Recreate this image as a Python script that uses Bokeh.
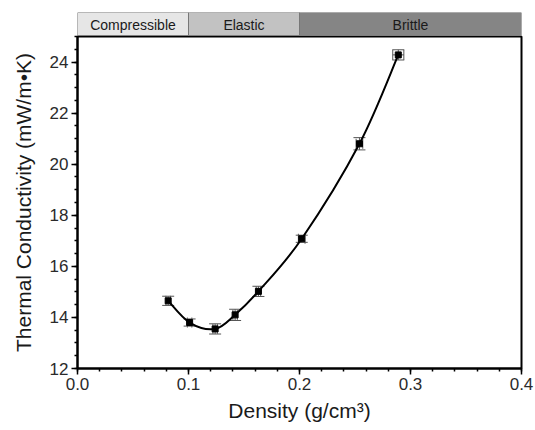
from bokeh.plotting import figure
from bokeh.models import Range1d, FixedTicker, Whisker, ColumnDataSource, TeeHead, NumeralTickFormatter
from bokeh.layouts import column
from bokeh.embed import file_html
from bokeh.resources import INLINE
from bokeh.core.properties import value

# ---- data ----
density = [0.0817, 0.101, 0.124, 0.142, 0.163, 0.202, 0.254, 0.289]
conductivity = [14.65, 13.80, 13.55, 14.10, 15.02, 17.08, 20.80, 24.28]
cond_err = [0.18, 0.14, 0.20, 0.22, 0.20, 0.14, 0.24, 0.20]
density_err = [0.002, 0.002, 0.002, 0.002, 0.002, 0.003, 0.003, 0.005]

regime_names = ["Compressible", "Elastic", "Brittle"]
regime_starts = [0.0, 0.1, 0.2]
regime_ends = [0.1, 0.2, 0.4]
regime_colors = ["#e6e6e6", "#c2c2c2", "#858585"]

x_ticks = [0.0, 0.1, 0.2, 0.3, 0.4]
x_minor = [round(i * 0.02, 2) for i in range(21)]
y_ticks = [12, 14, 16, 18, 20, 22, 24]
y_minor = [12 + 0.5 * i for i in range(27)]

FONT = "Liberation Sans"
W = 535
L, R = 77, 14

xr = Range1d(0.0, 0.4)

# ---- top regime band ----
band = figure(width=W, height=35, x_range=xr, y_range=Range1d(0, 1),
              output_backend="svg", toolbar_location=None,
              min_border_left=L, min_border_right=R, min_border_top=12, min_border_bottom=0)
band.axis.visible = False
band.grid.visible = False
band.outline_line_color = None
band_src = ColumnDataSource(dict(left=regime_starts, right=regime_ends,
                                 color=regime_colors, name=regime_names,
                                 mid=[(a + b) / 2 for a, b in zip(regime_starts, regime_ends)],
                                 ymid=[0.45] * len(regime_names)))
band.quad(left="left", right="right", bottom=0, top=1, fill_color="color",
          line_color="#777777", line_width=1, source=band_src)
band.text(x="mid", y="ymid", text="name", source=band_src, text_align="center",
          text_baseline="middle", text_font=value(FONT), text_font_size="14px",
          text_color="#1a1a1a")

# ---- main plot ----
p = figure(width=W, height=395, x_range=xr, y_range=Range1d(12, 25),
           output_backend="svg", toolbar_location=None,
           min_border_left=L, min_border_right=R, min_border_top=1, min_border_bottom=62)
p.grid.visible = False
p.outline_line_color = "black"
p.outline_line_width = 2

src = ColumnDataSource(dict(
    x=density, y=conductivity,
    yu=[y + e for y, e in zip(conductivity, cond_err)],
    yl=[y - e for y, e in zip(conductivity, cond_err)],
    xu=[x + e for x, e in zip(density, density_err)],
    xl=[x - e for x, e in zip(density, density_err)],
))

# smooth curve through the measured points (Catmull-Rom as cubic Beziers)
n = len(density)
px = [density[0]] + density + [density[-1]]
py = [conductivity[0]] + conductivity + [conductivity[-1]]
x0, y0, x1, y1, cx0, cy0, cx1, cy1 = [], [], [], [], [], [], [], []
for i in range(1, n):
    x0.append(px[i]); y0.append(py[i])
    x1.append(px[i + 1]); y1.append(py[i + 1])
    cx0.append(px[i] + (px[i + 1] - px[i - 1]) / 6)
    cy0.append(py[i] + (py[i + 1] - py[i - 1]) / 6)
    cx1.append(px[i + 1] - (px[i + 2] - px[i]) / 6)
    cy1.append(py[i + 1] - (py[i + 2] - py[i]) / 6)
p.bezier(x0=x0, y0=y0, x1=x1, y1=y1, cx0=cx0, cy0=cy0, cx1=cx1, cy1=cy1,
         line_color="black", line_width=2)

err_col = "#555555"
p.add_layout(Whisker(source=src, base="x", upper="yu", lower="yl", dimension="height",
                     line_color=err_col, line_width=1,
                     upper_head=TeeHead(size=12, line_color=err_col, line_width=1),
                     lower_head=TeeHead(size=12, line_color=err_col, line_width=1)))
p.add_layout(Whisker(source=src, base="y", upper="xu", lower="xl", dimension="width",
                     line_color=err_col, line_width=1,
                     upper_head=TeeHead(size=10, line_color=err_col, line_width=1),
                     lower_head=TeeHead(size=10, line_color=err_col, line_width=1)))
p.scatter(x="x", y="y", source=src, marker="square", size=6,
          fill_color="black", line_color="black")

p.xaxis.ticker = FixedTicker(ticks=x_ticks, minor_ticks=x_minor)
p.yaxis.ticker = FixedTicker(ticks=y_ticks, minor_ticks=y_minor)
p.xaxis.formatter = NumeralTickFormatter(format="0.0")
p.xaxis.axis_label = "Density (g/cm³)"
p.yaxis.axis_label = "Thermal Conductivity (mW/m•K)"

for ax in (p.xaxis[0], p.yaxis[0]):
    ax.axis_line_color = "black"
    ax.axis_line_width = 2
    ax.major_tick_line_color = "black"
    ax.major_tick_line_width = 1.5
    ax.minor_tick_line_color = "black"
    ax.minor_tick_line_width = 1.5
    ax.major_tick_out = 6
    ax.major_tick_in = 0
    ax.minor_tick_out = 3
    ax.minor_tick_in = 0
    ax.major_label_text_font = FONT
    ax.major_label_text_font_size = "17px"
    ax.major_label_text_color = "#2a2a2a"
    ax.axis_label_text_font = FONT
    ax.axis_label_text_font_size = "21px"
    ax.axis_label_text_font_style = "normal"
    ax.axis_label_text_color = "#1a1a1a"
    ax.major_label_standoff = 3

p.yaxis.axis_label_standoff = 12
p.xaxis.axis_label_standoff = 6

layout = column(band, p, spacing=0)
open("out.html", "w").write(file_html(layout, INLINE))
